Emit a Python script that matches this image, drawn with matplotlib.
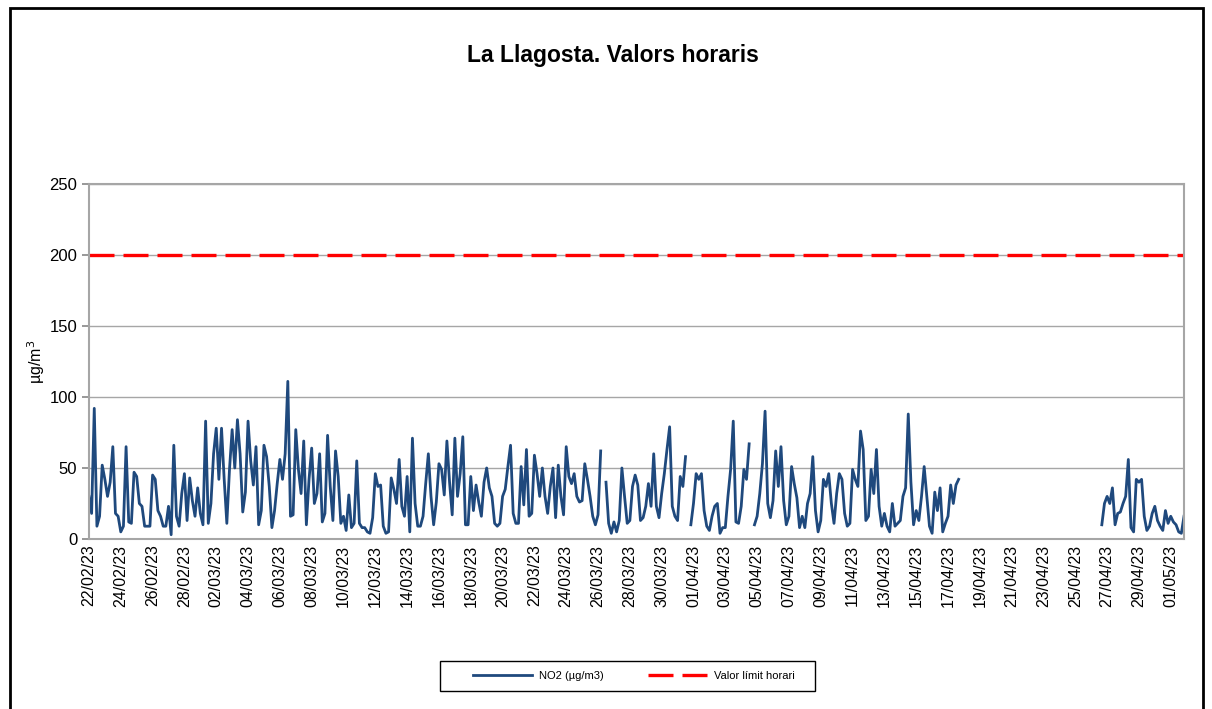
import matplotlib
matplotlib.use("Agg")
import matplotlib.pyplot as plt
import matplotlib.dates as mdates
from matplotlib.patches import Rectangle
import numpy as np
import pandas as pd

plt.rcParams['font.family'] = ['Liberation Sans', 'DejaVu Sans']

# NO2 values (ug/m3), read every 4 hours from 22/02/23 00:00 (None = missing)
no2_a = [30, 18, 92, 9, 16, 52, 42, 30, 40, 65, 18, 16, 5, 9, 65, 12, 11, 47,
         44, 25, 23, 9, 9, 9, 45, 42, 20, 16, 9, 9, 23, 3, 66, 16, 9, 32, 46,
         13, 43, 27, 16, 36, 18, 10, 83, 11, 25, 60, 78, 42, 78, 42, 11, 49,
         77, 50, 84, 60, 19, 33, 83, 55, 38, 65, 10, 20, 66, 58, 37, 8, 20,
         39, 56, 42, 60, 111, 16, 17, 77, 49, 32, 69, 10, 42, 64, 25, 32, 60,
         12, 18, 73, 37, 13, 62, 44, 11, 16, 6, 31, 8, 11, 55, 11, 8, 8, 5, 4,
         15, 46, 37, 38, 9, 4, 5, 43, 35, 25, 56, 23, 16, 44, 5, 71, 25, 9, 9,
         16, 39, 60, 30, 10, 26, 53, 49, 31, 69, 40, 17, 71, 30, 46, 72, 10,
         10, 44, 20, 38, 26, 16, 40, 50, 36, 30, 11, 9, 11, 30, 35, 51, 66, 18,
         11, 11, 51, 24, 63, 16, 18, 59, 46, 30, 50, 30, 18, 37, 50, 15, 52,
         30, 17, 65, 44, 39, 46, 30, 26, 27, 53, 42, 30, 16, 10, 17, 62, None,
         40, 11, 4, 12, 5, 13, 50, 30, 11, 13, 37, 45, 38, 13, 15, 23, 39, 23,
         60, 23, 15, 32, 46, 63, 79, 23, 16, 13, 44, 37, 58, None, 10, 25, 46,
         42, 46, 20, 9, 6, 16, 23, 25, 4, 8, 8, 30, 49, 83, 12, 11, 23, 49, 42,
         67, None, 10, 16, 32, 53, 90, 25, 15, 27, 62, 37, 65, 27, 10, 16, 51,
         39, 29, 8, 16, 8, 25, 32, 58, 20, 5, 13, 42, 37, 46, 25, 11, 32, 46,
         42, 18, 9, 11, 49, 42, 37, 76, 63, 13, 16, 49, 32, 63, 23, 9, 18, 9,
         5, 25, 9, 11, 13, 30, 36, 88, 40, 10, 20, 13, 30, 51, 30, 9, 4, 33,
         20, 36, 5, 11, 16, 38, 25, 38, 42]
# second block, every 4 hours from 26/04/23 16:00
no2_b = [10, 25, 30, 25, 36, 10, 18, 19, 25, 30, 56, 8, 5, 42, 40, 42, 16, 6,
         9, 18, 23, 13, 9, 6, 20, 11, 16, 12, 10, 5, 4, 16]
limit = 200

t_a = pd.date_range("2023-02-22 00:00", periods=len(no2_a), freq="4h")
t_b = pd.date_range("2023-04-26 16:00", periods=len(no2_b), freq="4h")
times = list(t_a) + [pd.Timestamp("2023-04-20")] + list(t_b)
values = np.array(no2_a + [None] + no2_b, dtype=float)

fig = plt.figure(figsize=(12.12, 7.09), dpi=100)
ax = fig.add_axes([0.0734, 0.2398, 0.9035, 0.5007])

ax.plot(times, values, color="#1F497D", lw=2, label="NO2 (µg/m3)")
ax.axhline(limit, color="#FF0000", lw=2.4, dashes=(7.5, 2.7), label="Valor límit horari")

ax.set_ylim(0, 250)
ax.set_yticks(range(0, 251, 50))
ax.set_xlim(pd.Timestamp("2023-02-22 00:00"), t_b[-1])
ax.set_xticks(pd.date_range("2023-02-22", "2023-05-01", freq="2D"))
ax.xaxis.set_major_formatter(mdates.DateFormatter("%d/%m/%y"))
plt.setp(ax.get_xticklabels(), rotation=90, fontsize=11.5)
ax.tick_params(axis='x', length=0, pad=4)
ax.tick_params(axis='y', labelsize=12, length=5, color="#868686", width=1.2)
ax.grid(axis='y', color="#A6A6A6", lw=1)
ax.set_axisbelow(True)
for s in ax.spines.values():
    s.set_color("#A6A6A6")
    s.set_linewidth(1.5)

ax.set_ylabel("µg/m$^{3}$", fontsize=11.5, labelpad=2)
fig.text(0.506, 0.922, "La Llagosta. Valors horaris", ha='center', va='center',
         fontsize=16.5, fontweight='bold')

leg = fig.legend(loc='center', bbox_to_anchor=(634 / 1212, 0.0465), ncol=2,
                 fontsize=8, frameon=False, handlelength=5.3,
                 columnspacing=4.0, handletextpad=0.6, borderaxespad=0)
# legend box as drawn in the original
fig.patches.append(Rectangle((440 / 1212, 1 - 691 / 709), 375 / 1212, 30 / 709,
                             transform=fig.transFigure, fill=False,
                             edgecolor='black', lw=1))

# outer chart border
fig.patches.append(Rectangle((10 / 1212, -0.02), 1193 / 1212, 1.02 - 8 / 709,
                             transform=fig.transFigure, fill=False,
                             edgecolor='black', lw=2))

fig.savefig("out.png", dpi=100)
